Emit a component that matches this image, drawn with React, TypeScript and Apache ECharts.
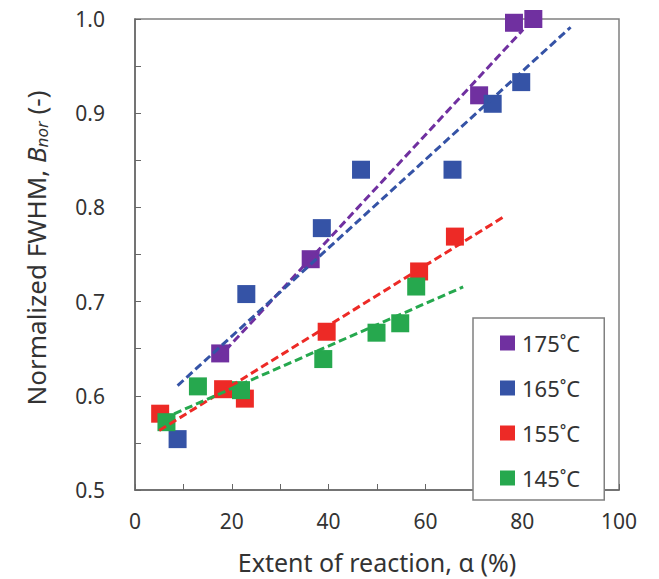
import React, { useEffect, useRef } from "react";
import * as echarts from "echarts";

// Data
const seriesNames = ["175˚C", "165˚C", "155˚C", "145˚C"];
const colors = ["#7030A0", "#3553A6", "#ED2A26", "#26A84E"];

const x175 = [17.6, 36.3, 71.1, 78.3, 82.3];
const y175 = [0.645, 0.745, 0.919, 0.996, 1.0];

const x165 = [8.8, 23.0, 38.6, 46.7, 65.6, 73.9, 79.8];
const y165 = [0.554, 0.708, 0.778, 0.84, 0.84, 0.91, 0.933];

const x155 = [5.2, 18.2, 22.7, 39.6, 58.7, 66.1];
const y155 = [0.581, 0.607, 0.597, 0.668, 0.732, 0.769];

const x145 = [6.5, 13.0, 21.9, 38.9, 49.9, 54.8, 58.1];
const y145 = [0.572, 0.61, 0.606, 0.639, 0.667, 0.677, 0.716];

// x-extent of each linear trend line
const fitRange175 = [17, 80.2];
const fitRange165 = [8.8, 90];
const fitRange155 = [5, 76.4];
const fitRange145 = [5.8, 67.8];

const xs = [x175, x165, x155, x145];
const ys = [y175, y165, y155, y145];
const ranges = [fitRange175, fitRange165, fitRange155, fitRange145];

function linFit(x: number[], y: number[]) {
  const n = x.length;
  const mx = x.reduce((a, b) => a + b, 0) / n;
  const my = y.reduce((a, b) => a + b, 0) / n;
  let sxy = 0, sxx = 0;
  for (let i = 0; i < n; i++) {
    sxy += (x[i] - mx) * (y[i] - my);
    sxx += (x[i] - mx) * (x[i] - mx);
  }
  const b = sxy / sxx;
  return { a: my - b * mx, b };
}

export default function App() {
  const ref = useRef<HTMLDivElement>(null);
  useEffect(() => {
    if (!ref.current) return;
    const chart = echarts.init(ref.current, null, { renderer: "svg" });
    const font = "Noto Sans";

    const scatterSeries = seriesNames.map((name, i) => ({
      name,
      type: "scatter",
      symbol: "rect",
      symbolSize: 18,
      itemStyle: { color: colors[i], opacity: 1 },
      data: xs[i].map((x, j) => [x, ys[i][j]]),
      z: 2,
    }));

    const lineSeries = seriesNames.map((name, i) => {
      const f = linFit(xs[i], ys[i]);
      const r = ranges[i];
      return {
        name: name + " fit",
        type: "line",
        symbol: "none",
        silent: true,
        lineStyle: { color: colors[i], width: 3, type: [8, 4] },
        data: r.map((x) => [x, f.a + f.b * x]),
        z: 3,
      };
    });

    chart.setOption({
      animation: false,
      backgroundColor: "#ffffff",
      textStyle: { fontFamily: font },
      grid: {
        left: 135,
        right: 40,
        top: 19,
        bottom: 88,
        show: true,
        borderColor: "#808080",
        borderWidth: 1.5,
      },
      xAxis: {
        type: "value",
        min: 0,
        max: 100,
        interval: 20,
        splitLine: { show: false },
        axisLine: { lineStyle: { color: "#666", width: 1.5 } },
        axisTick: { inside: true, length: 6, lineStyle: { color: "#666" } },
        minorTick: { show: true, splitNumber: 2, length: 6, lineStyle: { color: "#666" } },
        axisLabel: { fontSize: 21, color: "#333", margin: 20, fontFamily: font },
        name: "Extent of reaction, α (%)",
        nameLocation: "middle",
        nameGap: 59,
        nameTextStyle: { fontSize: 25, color: "#333", fontFamily: font },
      },
      yAxis: {
        type: "value",
        min: 0.5,
        max: 1.0,
        interval: 0.1,
        splitLine: { show: false },
        axisLine: { lineStyle: { color: "#666", width: 1.5 } },
        axisTick: { inside: true, length: 6, lineStyle: { color: "#666" } },
        minorTick: { show: true, splitNumber: 2, length: 6, lineStyle: { color: "#666" } },
        axisLabel: {
          fontSize: 21,
          color: "#333",
          margin: 30,
          fontFamily: font,
          formatter: (v: number) => v.toFixed(1),
        },
      },
      legend: {
        data: seriesNames,
        orient: "vertical",
        left: 473,
        top: 318,
        icon: "rect",
        itemWidth: 15,
        itemHeight: 15,
        itemGap: 23,
        padding: [14, 24, 11, 27],
        borderColor: "#808080",
        borderWidth: 1.5,
        backgroundColor: "#fff",
        textStyle: { fontSize: 22, color: "#333", fontFamily: font, padding: [0, 0, 0, 2] },
        selectedMode: false,
      },
      graphic: [
        {
          type: "text",
          x: 36,
          y: 248,
          rotation: Math.PI / 2,
          style: {
            text: "Normalized FWHM, {i|B}{s|nor} (-)",
            font: `26px "${font}"`,
            fill: "#333",
            align: "center",
            verticalAlign: "middle",
            rich: {
              i: { fontStyle: "italic", fontSize: 26, fontFamily: font, fill: "#333" },
              s: {
                fontStyle: "italic",
                fontSize: 17,
                fontFamily: font,
                fill: "#333",
                verticalAlign: "bottom",
                padding: [11, 0, 0, 0],
              },
            },
          },
        },
      ],
      series: [...scatterSeries, ...lineSeries],
    });
    return () => chart.dispose();
  }, []);
  return (
    <div
      ref={ref}
      style={{ position: "absolute", left: 0, top: 0, width: 659, height: 579 }}
    />
  );
}
